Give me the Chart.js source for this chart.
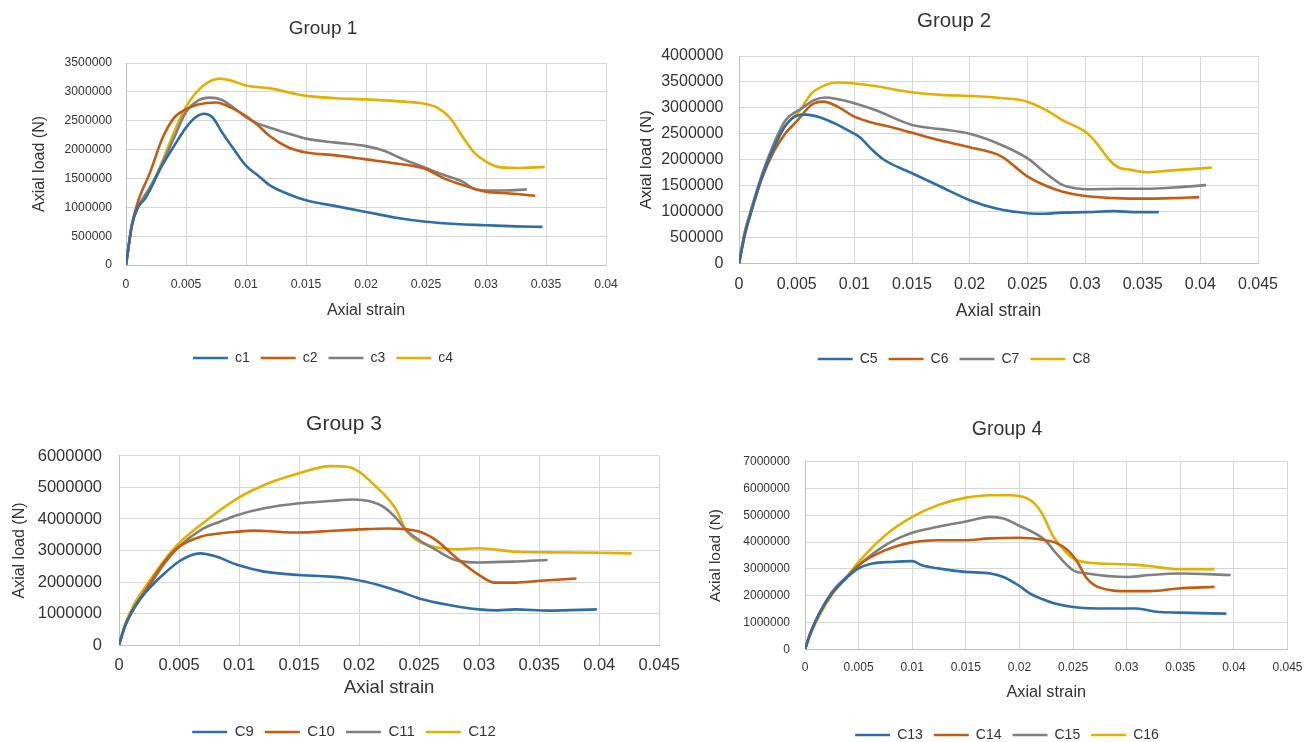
<!DOCTYPE html>
<html>
<head>
<meta charset="utf-8">
<script src="https://cdn.jsdelivr.net/npm/chart.js@4.4.1/dist/chart.umd.min.js"></script>
<style>
html,body{margin:0;padding:0;background:#fff;overflow:hidden;width:1314px;height:742px;}
canvas{position:absolute;}
</style>
</head>
<body>
<canvas id="g1"></canvas>
<canvas id="g2"></canvas>
<canvas id="g3"></canvas>
<canvas id="g4"></canvas>
<script>
// ---------- DATA ----------
const groupTitles = ["Group 1", "Group 2", "Group 3", "Group 4"];
const xAxisTitle = "Axial strain";
const yAxisTitle = "Axial load (N)";
const seriesNames = [["c1","c2","c3","c4"],["C5","C6","C7","C8"],["C9","C10","C11","C12"],["C13","C14","C15","C16"]];
const xMaxByGroup = [0.04, 0.045, 0.045, 0.045];
const xStep = 0.005;
const yMaxByGroup = [3500000, 4000000, 6000000, 7000000];
const yStepByGroup = [500000, 500000, 1000000, 1000000];

// Group 1
const c1Strain = [0,0.0005,0.001,0.0016,0.003,0.004,0.005,0.0058,0.0065,0.0072,0.008,0.009,0.01,0.011,0.012,0.0135,0.015,0.0175,0.02,0.0225,0.025,0.0275,0.03,0.0325,0.0347];
const c1Load   = [0,700000,1000000,1150000,1720000,2060000,2380000,2560000,2620000,2560000,2300000,2000000,1720000,1550000,1380000,1230000,1120000,1020000,920000,820000,750000,710000,690000,670000,660000];
const c2Strain = [0,0.0005,0.001,0.002,0.003,0.004,0.005,0.006,0.0075,0.009,0.01,0.011,0.012,0.0135,0.015,0.0175,0.02,0.0225,0.025,0.0265,0.028,0.029,0.03,0.032,0.0341];
const c2Load   = [0,700000,1100000,1600000,2180000,2550000,2700000,2780000,2815000,2700000,2580000,2420000,2230000,2040000,1950000,1900000,1830000,1760000,1660000,1500000,1390000,1320000,1270000,1240000,1200000];
const c3Strain = [0,0.0005,0.001,0.002,0.003,0.004,0.005,0.006,0.007,0.008,0.009,0.01,0.011,0.012,0.0135,0.015,0.0175,0.02,0.0215,0.023,0.025,0.0265,0.028,0.029,0.03,0.0315,0.0334];
const c3Load   = [0,700000,1000000,1350000,1750000,2200000,2650000,2850000,2900000,2860000,2720000,2560000,2450000,2380000,2280000,2190000,2120000,2060000,1980000,1840000,1680000,1560000,1450000,1320000,1290000,1290000,1310000];
const c4Strain = [0,0.0005,0.001,0.002,0.003,0.004,0.005,0.0064,0.0078,0.009,0.01,0.012,0.015,0.0175,0.02,0.0225,0.025,0.026,0.027,0.028,0.029,0.03,0.031,0.0325,0.0349];
const c4Load   = [0,700000,1000000,1300000,1780000,2300000,2740000,3100000,3230000,3180000,3110000,3060000,2930000,2890000,2870000,2840000,2790000,2720000,2550000,2240000,1950000,1790000,1700000,1680000,1700000];

// Group 2
const c5Strain = [0,0.0005,0.001,0.002,0.003,0.004,0.005,0.0058,0.007,0.0083,0.0095,0.0105,0.0115,0.0125,0.015,0.0175,0.02,0.0225,0.025,0.0265,0.028,0.03,0.0325,0.0345,0.0364];
const c5Load   = [0,550000,950000,1680000,2230000,2650000,2850000,2870000,2820000,2700000,2560000,2430000,2200000,2010000,1740000,1480000,1220000,1050000,970000,960000,980000,990000,1010000,990000,990000];
const c6Strain = [0,0.0005,0.001,0.002,0.003,0.004,0.005,0.0063,0.0073,0.0085,0.01,0.0113,0.013,0.015,0.0175,0.02,0.0227,0.025,0.0266,0.028,0.03,0.0327,0.035,0.0375,0.0399];
const c6Load   = [0,550000,950000,1650000,2150000,2500000,2740000,3060000,3120000,3030000,2830000,2730000,2640000,2520000,2370000,2240000,2070000,1680000,1500000,1390000,1300000,1260000,1250000,1260000,1280000];
const c7Strain = [0,0.0005,0.001,0.002,0.003,0.004,0.0055,0.0065,0.0075,0.0085,0.01,0.0118,0.015,0.0175,0.02,0.0227,0.025,0.0266,0.028,0.0292,0.0302,0.0327,0.0352,0.038,0.0405];
const c7Load   = [0,600000,1000000,1720000,2300000,2750000,3000000,3150000,3200000,3170000,3090000,2960000,2670000,2590000,2500000,2290000,2030000,1740000,1520000,1450000,1430000,1440000,1440000,1470000,1510000];
const c8Strain = [0,0.0005,0.001,0.002,0.003,0.004,0.0052,0.0063,0.0075,0.0085,0.01,0.0118,0.015,0.0175,0.02,0.0227,0.025,0.0266,0.028,0.0302,0.031,0.0321,0.033,0.0339,0.0352,0.0373,0.041];
const c8Load   = [0,600000,1000000,1650000,2200000,2650000,2930000,3280000,3440000,3490000,3470000,3420000,3300000,3250000,3230000,3190000,3120000,2960000,2770000,2510000,2320000,2000000,1840000,1810000,1760000,1790000,1850000];

// Group 3
const c9Strain  = [0,0.0005,0.0013,0.0024,0.0038,0.005,0.006,0.0068,0.0079,0.0099,0.0121,0.015,0.0176,0.0195,0.0217,0.0235,0.025,0.0275,0.03,0.0315,0.033,0.0358,0.0398];
const c9Load    = [0,600000,1220000,1750000,2280000,2650000,2850000,2910000,2830000,2540000,2330000,2220000,2170000,2090000,1900000,1680000,1480000,1270000,1130000,1100000,1130000,1090000,1130000];
const c10Strain = [0,0.0005,0.0013,0.0024,0.0038,0.005,0.0068,0.0085,0.0099,0.0112,0.0121,0.015,0.0175,0.02,0.0224,0.025,0.0264,0.028,0.03,0.0313,0.033,0.0351,0.0381];
const c10Load   = [0,600000,1200000,1850000,2650000,3120000,3440000,3550000,3600000,3630000,3620000,3570000,3620000,3670000,3700000,3600000,3330000,2800000,2220000,1980000,1980000,2040000,2110000];
const c11Strain = [0,0.0005,0.0013,0.0024,0.0038,0.005,0.0068,0.0085,0.0099,0.0121,0.015,0.0176,0.0195,0.0209,0.022,0.0231,0.0239,0.025,0.0264,0.028,0.03,0.033,0.0357];
const c11Load   = [0,600000,1180000,1800000,2600000,3120000,3650000,3930000,4130000,4340000,4500000,4570000,4620000,4560000,4390000,4020000,3650000,3330000,3020000,2700000,2620000,2650000,2700000];
const c12Strain = [0,0.0005,0.0013,0.0024,0.0038,0.005,0.0068,0.0099,0.0121,0.015,0.0176,0.019,0.02,0.0214,0.022,0.0231,0.0239,0.025,0.0264,0.028,0.03,0.033,0.0358,0.0399,0.0427];
const c12Load   = [0,650000,1320000,1960000,2700000,3230000,3810000,4660000,5080000,5450000,5680000,5660000,5500000,5030000,4810000,4290000,3650000,3280000,3100000,3040000,3070000,2960000,2940000,2930000,2910000];

// Group 4
const c13Strain = [0,0.0005,0.0014,0.0026,0.0038,0.005,0.0063,0.0081,0.01,0.0109,0.0124,0.0149,0.0173,0.0185,0.0199,0.021,0.0224,0.0233,0.025,0.0282,0.0309,0.0328,0.0348,0.0393];
const c13Load   = [0,600000,1390000,2140000,2640000,3020000,3200000,3260000,3290000,3140000,3020000,2890000,2830000,2700000,2390000,2080000,1830000,1710000,1580000,1520000,1520000,1400000,1370000,1330000];
const c14Strain = [0,0.0005,0.0014,0.0026,0.0038,0.005,0.0075,0.01,0.0124,0.0149,0.0173,0.0199,0.0224,0.0233,0.0245,0.0254,0.0263,0.0273,0.0302,0.0321,0.0348,0.0382];
const c14Load   = [0,600000,1390000,2140000,2640000,3140000,3700000,3990000,4070000,4070000,4140000,4160000,4070000,3990000,3700000,3260000,2640000,2330000,2170000,2170000,2270000,2330000];
const c15Strain = [0,0.0005,0.0014,0.0026,0.0038,0.005,0.0075,0.01,0.0124,0.0149,0.0173,0.0185,0.0199,0.0224,0.0233,0.025,0.0263,0.0302,0.0321,0.0348,0.0397];
const c15Load   = [0,600000,1390000,2180000,2680000,3140000,3890000,4350000,4570000,4760000,4940000,4880000,4630000,4070000,3640000,2950000,2830000,2700000,2770000,2830000,2770000];
const c16Strain = [0,0.0005,0.0014,0.0026,0.0038,0.005,0.0075,0.01,0.0124,0.0149,0.0173,0.0191,0.021,0.0219,0.0225,0.023,0.0239,0.025,0.0263,0.0302,0.0321,0.0348,0.0382];
const c16Load   = [0,550000,1300000,2080000,2650000,3260000,4260000,4940000,5380000,5650000,5750000,5750000,5570000,5200000,4760000,4320000,3820000,3390000,3240000,3170000,3110000,2990000,2990000];

const seriesColors = ["#2E6DA8", "#C55A11", "#808080", "#E4B000"];

// ---------- BUILD ----------
const groupStrains = [[c1Strain,c2Strain,c3Strain,c4Strain],[c5Strain,c6Strain,c7Strain,c8Strain],[c9Strain,c10Strain,c11Strain,c12Strain],[c13Strain,c14Strain,c15Strain,c16Strain]];
const groupLoads = [[c1Load,c2Load,c3Load,c4Load],[c5Load,c6Load,c7Load,c8Load],[c9Load,c10Load,c11Load,c12Load],[c13Load,c14Load,c15Load,c16Load]];

const layouts = [
  {id:"g1", CL:0, CT:0, W:657, H:380, pl:126, pr:606, ptop:63, pb:265, tx:323, ty:29, titleFs:19, tickFs:12.2, xTickY:285, xTitleFs:16, xTitleY:311, yTitleFs:16, yTitleX:40, yTickRight:112, legFs:14, ly:358},
  {id:"g2", CL:640, CT:0, W:674, H:380, pl:739, pr:1258, ptop:56, pb:263.5, tx:954, ty:21, titleFs:20.5, tickFs:16, xTickY:285, xTitleFs:17.5, xTitleY:311, yTitleFs:16.5, yTitleX:646, yTickRight:723.5, legFs:14, ly:359},
  {id:"g3", CL:0, CT:392, W:690, H:360, pl:119, pr:664, ptop:456, pb:645, tx:344, ty:424, titleFs:21, tickFs:16.5, xTickY:665, xTitleFs:18.5, xTitleY:688, yTitleFs:16, yTitleX:20, yTickRight:102, legFs:15, ly:732},
  {id:"g4", CL:690, CT:392, W:624, H:362, pl:805, pr:1294.3, ptop:461.7, pb:649.3, tx:1007, ty:430, titleFs:19.5, tickFs:12, xTickY:668, xTitleFs:16.3, xTitleY:693, yTitleFs:15.5, yTitleX:716, yTickRight:790, legFs:14, ly:735}
];

const FONT = "'Liberation Sans', Arial, sans-serif";
const TEXT = "#333333";
const GRID = "#d6d6d6";

function build(g) {
  const L = layouts[g];
  const cv = document.getElementById(L.id);
  cv.width = L.W; cv.height = L.H;
  cv.style.left = L.CL + "px"; cv.style.top = L.CT + "px";
  cv.style.width = L.W + "px"; cv.style.height = L.H + "px";

  const padR = L.CL + L.W - L.pr;
  const padL = 2 * L.tx - L.CL - L.pr;
  const yW = L.pl - (L.CL + padL);
  const yTitlePad = L.yTitleX - (L.CL + padL) - L.yTitleFs * 0.6;
  const tLH = L.titleFs * 1.2;
  const tP1 = L.ty - L.CT - tLH / 2;
  const tP2 = L.ptop - (L.ty + tLH / 2);
  const lp = 11;
  const legTop = L.ly - lp - L.legFs / 2;
  const legBottom = legTop + L.legFs + lp + 10;
  const padB = L.CT + L.H - legBottom;
  const xH = legTop - L.pb;
  const xTickPad = L.xTickY - L.pb - 0.6 * L.tickFs;
  const xTitlePadB = legTop - L.xTitleY - L.xTitleFs * 0.6;

  const datasets = seriesNames[g].map((name, i) => ({
    label: name,
    data: groupStrains[g][i].map((x, k) => ({x: x, y: groupLoads[g][i][k]})),
    borderColor: seriesColors[i],
    backgroundColor: seriesColors[i],
    borderWidth: 2.6,
    pointRadius: 0,
    pointHoverRadius: 0,
    fill: false,
    cubicInterpolationMode: "monotone"
  }));

  new Chart(cv, {
    type: "line",
    data: {datasets},
    options: {
      responsive: false,
      animation: false,
      devicePixelRatio: 1,
      layout: {padding: {left: padL, right: padR, top: 0, bottom: padB}},
      plugins: {
        tooltip: {enabled: false},
        title: {
          display: true, text: groupTitles[g], color: "#333",
          font: {family: FONT, size: L.titleFs, weight: "normal", lineHeight: 1.2},
          padding: {top: tP1, bottom: tP2}
        },
        legend: {
          position: "bottom",
          labels: {
            color: TEXT, font: {family: FONT, size: L.legFs},
            usePointStyle: true, pointStyle: "line", pointStyleWidth: 35, padding: lp
          }
        }
      },
      scales: {
        x: {
          type: "linear", min: 0, max: xMaxByGroup[g],
          afterFit: s => { s.height = xH; },
          grid: {color: GRID, drawTicks: false, lineWidth: 1},
          border: {color: "#bfbfbf"},
          ticks: {
            stepSize: xStep, autoSkip: false, maxRotation: 0, padding: xTickPad,
            color: TEXT, font: {family: FONT, size: L.tickFs},
            callback: v => String(parseFloat(Number(v).toFixed(4)))
          },
          title: {
            display: true, text: xAxisTitle, color: "#333",
            font: {family: FONT, size: L.xTitleFs, lineHeight: 1.2},
            padding: {top: 0, bottom: xTitlePadB}
          }
        },
        y: {
          type: "linear", min: 0, max: yMaxByGroup[g],
          afterFit: s => { s.width = yW; },
          grid: {color: GRID, drawTicks: false, lineWidth: 1},
          border: {color: "#bfbfbf"},
          ticks: {
            stepSize: yStepByGroup[g], autoSkip: false, padding: L.pl - L.yTickRight,
            color: TEXT, font: {family: FONT, size: L.tickFs},
            callback: v => String(Math.round(v))
          },
          title: {
            display: true, text: yAxisTitle, color: "#333",
            font: {family: FONT, size: L.yTitleFs, lineHeight: 1.2},
            padding: {top: yTitlePad, bottom: 0}
          }
        }
      }
    }
  });
}

for (let g = 0; g < 4; g++) build(g);
</script>
</body>
</html>
